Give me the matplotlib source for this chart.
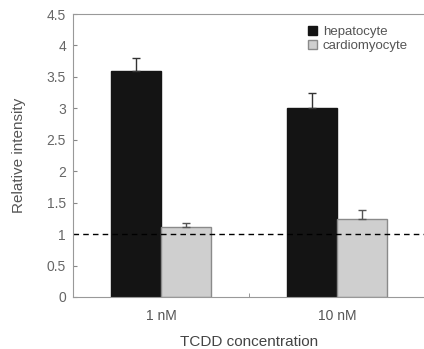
import matplotlib.pyplot as plt
import numpy as np

plt.rcParams['font.family'] = ['Liberation Sans', 'DejaVu Sans']

# data
groups = ['1 nM', '10 nM']
hepatocyte = [3.6, 3.0]
hepatocyte_err = [0.2, 0.25]
cardiomyocyte = [1.12, 1.24]
cardiomyocyte_err = [0.06, 0.15]

x = np.arange(len(groups))
w = 0.285

fig = plt.figure(figsize=(4.24, 3.49), dpi=100)
ax = fig.add_axes([73/424, 52/349, 352/424, 283/349])

ax.bar(x - w/2, hepatocyte, w, color='#141414', edgecolor='#141414', label='hepatocyte',
       yerr=[[0, 0], hepatocyte_err], error_kw=dict(ecolor='#333333', capsize=3, elinewidth=1))
ax.bar(x + w/2, cardiomyocyte, w, color='#cfcfcf', edgecolor='#8a8a8a', linewidth=1, label='cardiomyocyte',
       yerr=[[0, 0], cardiomyocyte_err], error_kw=dict(ecolor='#555555', capsize=3, elinewidth=1))

ax.axhline(1, color='black', linestyle=(0, (4, 3)), linewidth=1)

ax.set_xlim(-0.5, 1.5)
ax.set_ylim(0, 4.5)
ax.set_yticks(np.arange(0, 4.51, 0.5))
ax.set_yticklabels(['0', '0.5', '1', '1.5', '2', '2.5', '3', '3.5', '4', '4.5'])
ax.set_xticks(x)
ax.set_xticklabels(groups)
ax.set_xticks([0.5], minor=True)
ax.tick_params(axis='y', direction='in', length=3, colors='#888888', labelcolor='#666666', labelsize=10, pad=5)
ax.tick_params(axis='x', length=0, labelcolor='#555555', labelsize=10, pad=9)
ax.tick_params(axis='x', which='minor', direction='in', length=3, color='#888888')

for s in ['left', 'bottom', 'top']:
    ax.spines[s].set_color('#999999')
ax.spines['right'].set_visible(False)

ax.set_xlabel('TCDD concentration', fontsize=11, color='#444444', labelpad=8)
ax.set_ylabel('Relative intensity', fontsize=11, color='#555555', labelpad=15)

ax.legend(loc='upper right', bbox_to_anchor=(0.985, 1.0), fontsize=9.5, frameon=False,
          handlelength=0.7, handleheight=0.7, handletextpad=0.4, labelspacing=0.15, labelcolor='#555555')

plt.savefig('out.png', dpi=100)
